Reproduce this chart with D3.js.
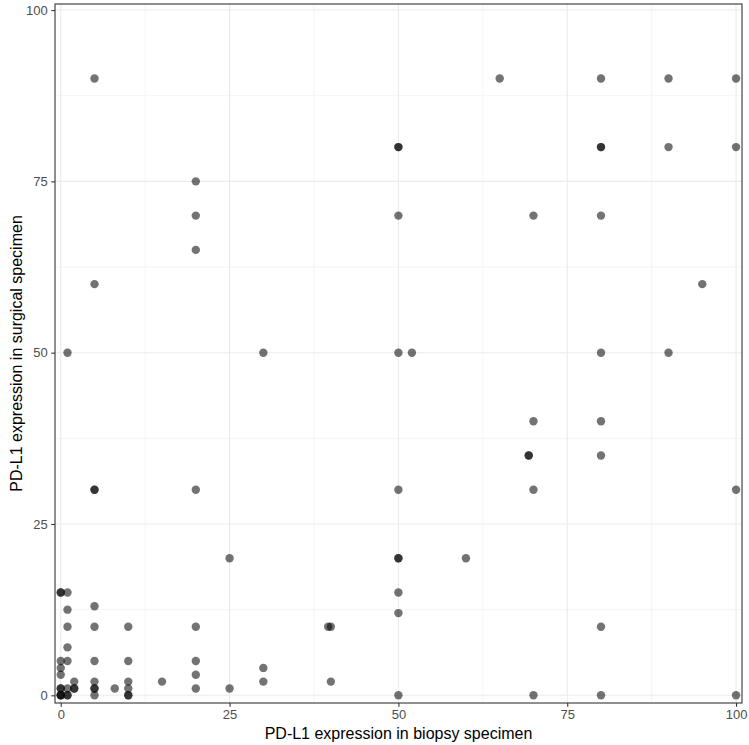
<!DOCTYPE html>
<html>
<head>
<meta charset="utf-8">
<script src="https://cdn.jsdelivr.net/npm/d3@7"></script>
<style>
  body { margin: 0; background: white; }
  text { font-family: "Liberation Sans", Arial, sans-serif; }
</style>
</head>
<body>
<div id="canvas"></div>
<script>
"use strict"

// biopsy (x) and surgical (y) PD-L1 values, one entry per patient
let biopsy = [
  5, 65, 80, 90, 100,
  50, 50, 80, 80, 90, 100,
  20,
  20, 50, 70, 80,
  20,
  5, 95,
  1, 30, 50, 52, 80, 90,
  70, 80,
  69.3, 69.3, 80,
  5, 5, 20, 50, 70, 100,
  25, 50, 50, 60,
  0, 0, 1, 50,
  5,
  1, 50,
  1, 5, 10, 20, 39.6, 40, 80,
  1,
  0, 1, 5, 10, 20,
  0, 30,
  0, 20,
  2, 5, 10, 15, 30, 40,
  0, 0, 1, 2, 2, 5, 5, 8, 10, 20, 25,
  0, 0, 0, 1, 1, 5, 10, 10, 50, 70, 80, 100
];
let surgical = [
  90, 90, 90, 90, 90,
  80, 80, 80, 80, 80, 80,
  75,
  70, 70, 70, 70,
  65,
  60, 60,
  50, 50, 50, 50, 50, 50,
  40, 40,
  35, 35, 35,
  30, 30, 30, 30, 30, 30,
  20, 20, 20, 20,
  15, 15, 15, 15,
  13,
  12.5, 12,
  10, 10, 10, 10, 10, 10, 10,
  7,
  5, 5, 5, 5, 5,
  4, 4,
  3, 3,
  2, 2, 2, 2, 2, 2,
  1, 1, 1, 1, 1, 1, 1, 1, 1, 1, 1,
  0, 0, 0, 0, 0, 0, 0, 0, 0, 0, 0, 0
];

let majorTicks = [0, 25, 50, 75, 100];
let minorTicks = [12.5, 37.5, 62.5, 87.5];
let xTitle = "PD-L1 expression in biopsy specimen";
let yTitle = "PD-L1 expression in surgical specimen";

let drawingWidth = 749;
let drawingHeight = 745;

let panelLeft = 55;
let panelRight = 742;
let panelTop = 4;
let panelBottom = 703;

let drawing = d3.select("#canvas")
    .append("svg")
    .attr("width", drawingWidth)
    .attr("height", drawingHeight);

let x = d3.scaleLinear()
    .domain([-0.85, 100.88])
    .range([panelLeft, panelRight]);

let y = d3.scaleLinear()
    .domain([-1.12, 100.88])
    .range([panelBottom, panelTop]);

// grid
let grid = drawing.append("g");

grid.selectAll(".xminor")
    .data(minorTicks)
    .join("line")
    .attr("x1", d => x(d))
    .attr("x2", d => x(d))
    .attr("y1", panelTop)
    .attr("y2", panelBottom)
    .attr("stroke", "#ebebeb")
    .attr("stroke-width", 0.55);

grid.selectAll(".yminor")
    .data(minorTicks)
    .join("line")
    .attr("x1", panelLeft)
    .attr("x2", panelRight)
    .attr("y1", d => y(d))
    .attr("y2", d => y(d))
    .attr("stroke", "#ebebeb")
    .attr("stroke-width", 0.55);

grid.selectAll(".xmajor")
    .data(majorTicks)
    .join("line")
    .attr("x1", d => x(d))
    .attr("x2", d => x(d))
    .attr("y1", panelTop)
    .attr("y2", panelBottom)
    .attr("stroke", "#ebebeb")
    .attr("stroke-width", 1.1);

grid.selectAll(".ymajor")
    .data(majorTicks)
    .join("line")
    .attr("x1", panelLeft)
    .attr("x2", panelRight)
    .attr("y1", d => y(d))
    .attr("y2", d => y(d))
    .attr("stroke", "#ebebeb")
    .attr("stroke-width", 1.1);

// points
drawing.append("g")
    .selectAll("circle")
    .data(biopsy.map((b, i) => [b, surgical[i]]))
    .join("circle")
    .attr("cx", d => x(d[0]))
    .attr("cy", d => y(d[1]))
    .attr("r", 4.2)
    .attr("fill", "black")
    .attr("fill-opacity", 0.55);

// panel border
drawing.append("rect")
    .attr("x", panelLeft)
    .attr("y", panelTop)
    .attr("width", panelRight - panelLeft)
    .attr("height", panelBottom - panelTop)
    .attr("fill", "none")
    .attr("stroke", "#333333")
    .attr("stroke-width", 1.1);

// axes
let xAxis = drawing.append("g")
    .attr("transform", `translate(0,${panelBottom})`)
    .call(d3.axisBottom(x).tickValues(majorTicks).tickSize(3.7).tickPadding(3.5));

let yAxis = drawing.append("g")
    .attr("transform", `translate(${panelLeft},0)`)
    .call(d3.axisLeft(y).tickValues(majorTicks).tickSize(3.7).tickPadding(3.5));

for (let ax of [xAxis, yAxis]) {
  ax.select(".domain").remove();
  ax.selectAll(".tick line").attr("stroke", "#333333").attr("stroke-width", 1.1);
  ax.selectAll(".tick text")
    .attr("fill", "#4d4d4d")
    .style("font-size", "13px")
    .style("font-family", "Liberation Sans, Arial, sans-serif");
}

drawing.append("text")
    .attr("x", (panelLeft + panelRight) / 2)
    .attr("y", 739)
    .attr("text-anchor", "middle")
    .attr("fill", "black")
    .style("font-size", "16px")
    .text(xTitle);

drawing.append("text")
    .attr("transform", `translate(22,${(panelTop + panelBottom) / 2}) rotate(-90)`)
    .attr("text-anchor", "middle")
    .attr("fill", "black")
    .style("font-size", "16px")
    .text(yTitle);
</script>
</body>
</html>
